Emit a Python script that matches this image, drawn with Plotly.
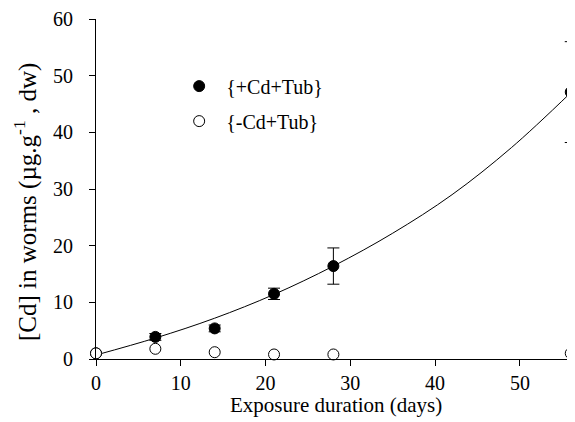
import plotly.graph_objects as go

days = [0, 7, 14, 21, 28, 56]
cd_plus = [1.0, 3.9, 5.4, 11.5, 16.4, 47.1]
cd_plus_err = [0.2, 0.6, 0.6, 1.0, 3.2, 8.9]
cd_minus = [1.0, 1.8, 1.2, 0.8, 0.8, 1.0]

fit_x = [0, 7, 14, 21, 28, 35, 42, 49, 56]
fit_y = [0.7, 3.7, 7.2, 11.4, 16.4, 22.2, 29.0, 37.3, 47.0]

font = dict(family="Liberation Serif", size=20, color="black")

fig = go.Figure()
fig.add_trace(go.Scatter(x=fit_x, y=fit_y, mode="lines", line=dict(color="black", width=1, shape="spline"),
                         showlegend=False, hoverinfo="skip"))
fig.add_trace(go.Scatter(x=days, y=cd_plus, mode="markers", name="{+Cd+Tub}", legendgroup="a",
                         marker=dict(color="black", size=11, line=dict(color="black", width=1)),
                         error_y=dict(type="data", array=cd_plus_err, color="black", thickness=1, width=6),
                         cliponaxis=False))
fig.add_trace(go.Scatter(x=days, y=cd_minus, mode="markers", name="{-Cd+Tub}", legendgroup="b",
                         marker=dict(color="white", size=11, line=dict(color="black", width=1)),
                         cliponaxis=False))

fig.update_layout(
    width=567, height=414,
    margin=dict(l=88, r=0, t=7, b=63),
    paper_bgcolor="white", plot_bgcolor="white",
    font=font,
    legend=dict(x=0.159, y=0.86, xanchor="left", yanchor="top", bgcolor="rgba(0,0,0,0)",
                tracegroupgap=6, itemwidth=44, font=font),
    xaxis=dict(range=[0, 56.5], tickvals=[0, 10, 20, 30, 40, 50], showline=True, linecolor="black",
               linewidth=1, ticks="outside", ticklen=6, tickcolor="black", showgrid=False, zeroline=False,
               ticklabelstandoff=0, ticklabeloverflow="allow", tickfont=font),
    yaxis=dict(range=[0, 60], tickvals=[0, 10, 20, 30, 40, 50, 60], showline=True, linecolor="black",
               linewidth=1, ticks="outside", ticklen=6, tickcolor="black", showgrid=False, zeroline=False,
               ticklabelstandoff=12, ticklabeloverflow="allow", tickfont=font),
    annotations=[
        dict(text="Exposure duration (days)", x=0.5, y=0, xref="paper", yref="paper",
             xanchor="center", yanchor="top", yshift=-33, borderpad=0, showarrow=False,
             font=dict(family="Liberation Serif", size=21, color="black")),
        dict(text="[Cd] in worms (µg.g<sup>-1</sup> , dw)", x=0, y=0.5, xref="paper", yref="paper",
             xanchor="center", yanchor="middle", xshift=-71, yshift=-13, textangle=-90, showarrow=False,
             font=dict(family="Liberation Serif", size=25, color="black")),
    ],
)
fig.write_html("out.html")
